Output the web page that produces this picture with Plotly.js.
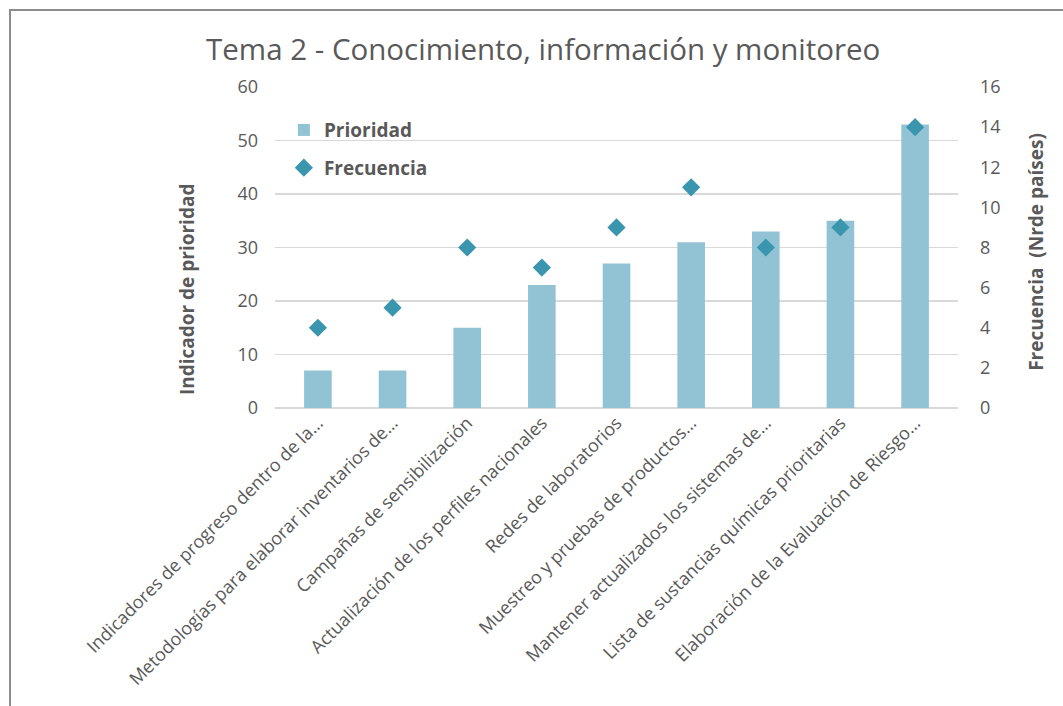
<!DOCTYPE html>
<html>
<head>
<meta charset="utf-8">
<script src="https://cdn.plot.ly/plotly-3.0.1.min.js"></script>
<style>
  html, body { margin: 0; padding: 0; background: #fff; }
  #wrap { position: relative; width: 1063px; height: 706px; overflow: hidden; }
  #chart { width: 1063px; height: 706px; }
  #frame { position: absolute; left: 9px; top: 9px; width: 2000px; height: 2000px;
           border-left: 2.5px solid #8c8c8c; border-top: 2.5px solid #8c8c8c; pointer-events: none; }
</style>
</head>
<body>
<div id="wrap">
  <div id="chart"></div>
  <div id="frame"></div>
</div>
<script>
const categories = [
  "Indicadores de progreso dentro de la…",
  "Metodologías para elaborar inventarios de…",
  "Campañas de sensibilización",
  "Actualización de los perfiles nacionales",
  "Redes de laboratorios",
  "Muestreo y pruebas de productos…",
  "Mantener actualizados los sistemas de…",
  "Lista de sustancias químicas prioritarias",
  "Elaboración de la Evaluación de Riesgo…"
];
const prioridad = [7, 7, 15, 23, 27, 31, 33, 35, 53];
const frecuencia = [4, 5, 8, 7, 9, 11, 8, 9, 14];
const leftTicks = [0, 10, 20, 30, 40, 50, 60];
const rightTicks = [0, 2, 4, 6, 8, 10, 12, 14, 16];

const FONT = "Open Sans, sans-serif";
const GRAY = "#595959";

const traces = [
  {
    type: "bar", name: "Prioridad", x: categories, y: prioridad,
    marker: { color: "#92C3D5" }, yaxis: "y", legendgroup: "a"
  },
  {
    type: "scatter", mode: "markers", name: "Frecuencia", x: categories, y: frecuencia,
    marker: { symbol: "diamond", size: 14, color: "#3A96AE" }, yaxis: "y2", legendgroup: "b"
  }
];

const layout = {
  width: 1063, height: 706,
  margin: { l: 275, r: 105, t: 87, b: 298 },
  paper_bgcolor: "#fff", plot_bgcolor: "#fff",
  font: { family: FONT, color: GRAY, size: 16 },
  title: { text: "Tema 2 - Conocimiento, información y monitoreo",
           font: { family: FONT, size: 29.5, color: GRAY },
           x: 0.511, xanchor: "center", y: 0.93, yanchor: "middle" },
  bargap: 0.63,
  showlegend: true,
  legend: { x: 0.013, y: 0.925, xanchor: "left", yanchor: "top",
            bgcolor: "rgba(0,0,0,0)", font: { family: FONT, size: 19, color: GRAY, weight: "bold" },
            traceorder: "grouped", tracegroupgap: 10 },
  xaxis: {
    tickangle: -45, tickfont: { family: FONT, size: 18, color: GRAY },
    showgrid: false, showline: false, ticks: "", automargin: false
  },
  yaxis: {
    range: [0, 60], tickvals: leftTicks, ticktext: leftTicks.map(String),
    showgrid: true, gridcolor: "#D9D9D9", gridwidth: 1.5,
    zeroline: true, zerolinecolor: "#D9D9D9", zerolinewidth: 1.5,
    showline: false, ticks: "", ticklabelstandoff: 16,
    tickfont: { family: FONT, size: 18, color: GRAY }, automargin: false
  },
  yaxis2: {
    range: [0, 16], tickvals: rightTicks, ticktext: rightTicks.map(String),
    overlaying: "y", side: "right", showgrid: false, zeroline: false,
    showline: false, ticks: "", ticklabelstandoff: 21,
    tickfont: { family: FONT, size: 18, color: GRAY }, automargin: false
  },
  annotations: [
    { text: "<b>Indicador de prioridad</b>", xref: "paper", yref: "paper",
      x: -0.1287, y: 0.3707, textangle: -90, showarrow: false,
      xanchor: "center", yanchor: "middle", font: { family: FONT, size: 19, color: GRAY } },
    { text: "<b>Frecuencia  (Nrde países)</b>", xref: "paper", yref: "paper",
      x: 1.114, y: 0.486, textangle: -90, showarrow: false,
      xanchor: "center", yanchor: "middle", font: { family: FONT, size: 19, color: GRAY } }
  ]
};

Plotly.newPlot("chart", traces, layout, { displayModeBar: false, staticPlot: true });
</script>
</body>
</html>
